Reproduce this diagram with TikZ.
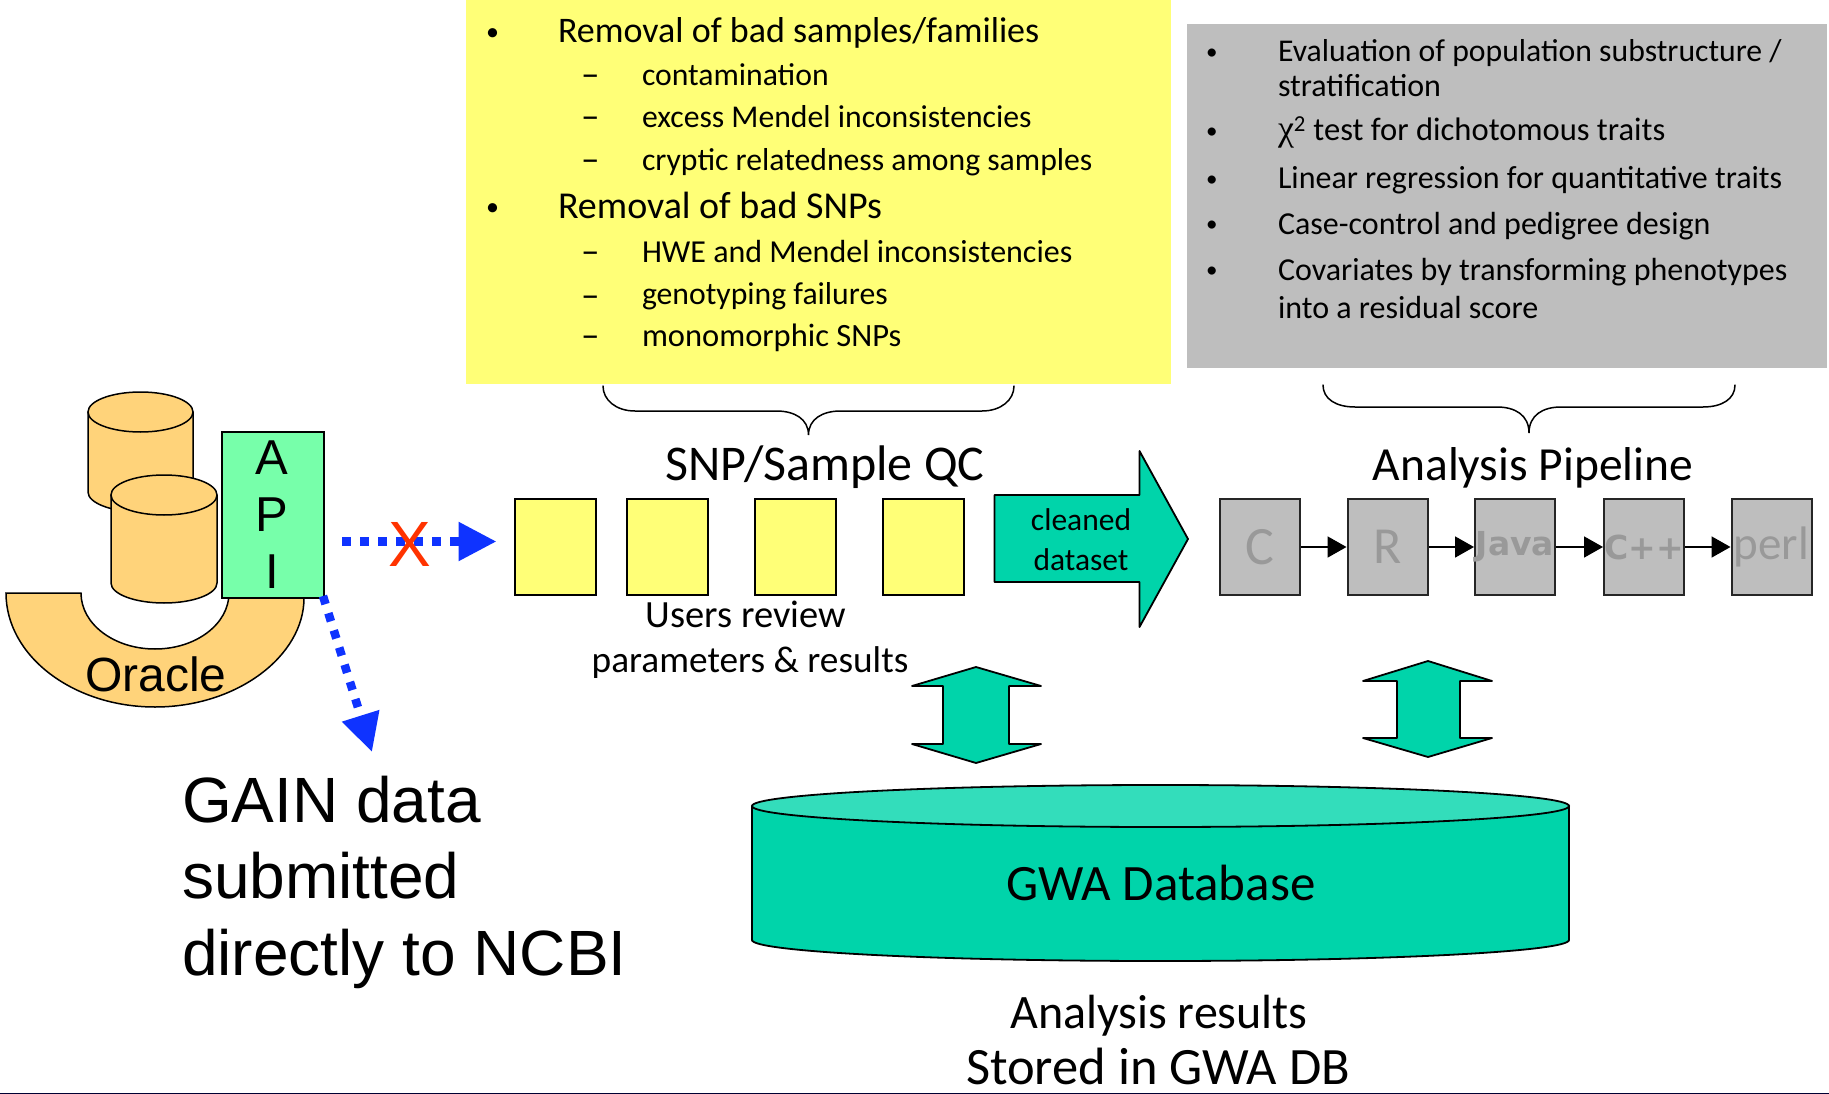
\documentclass[tikz,border=0pt]{standalone}
\usepackage{fontspec}
\setmainfont{Carlito}
\newfontfamily\arialf{Liberation Sans}
\newfontfamily\serf{Liberation Serif}
\newfontfamily\heavyf{DejaVu Sans}
\usetikzlibrary{arrows.meta,calc}
\definecolor{yel}{HTML}{FFFF77}
\definecolor{gry}{HTML}{BEBEBE}
\definecolor{txg}{HTML}{999999}
\definecolor{org}{HTML}{FFD37A}
\definecolor{teal1}{HTML}{00D4AA}
\definecolor{teal2}{HTML}{33DDBB}
\definecolor{mint}{HTML}{77FFAA}
\definecolor{blu}{HTML}{0F33FF}
\definecolor{redx}{HTML}{FF3300}
\newcommand{\fsz}[1]{\fontsize{#1pt}{#1pt}\selectfont}
% cylinder: x1 x2 ytopcentre ybottomcentre ry topfill bodyfill lw
\newcommand{\cylshape}[8]{%
 \pgfmathsetmacro{\xc}{(#1+#2)/2}\pgfmathsetmacro{\rx}{(#2-#1)/2}%
 \pgfmathsetmacro{\kx}{\rx*0.5523}\pgfmathsetmacro{\ky}{#5*0.5523}%
 \draw[line width=#8pt,fill=#7,line join=round] (#1,#3) -- (#1,#4)
  .. controls (#1,#4+\ky) and (\xc-\kx,#4+#5) .. (\xc,#4+#5)
  .. controls (\xc+\kx,#4+#5) and (#2,#4+\ky) .. (#2,#4) -- (#2,#3) -- cycle;
 \draw[line width=#8pt,fill=#6] (#1,#3)
  .. controls (#1,#3-\ky) and (\xc-\kx,#3-#5) .. (\xc,#3-#5)
  .. controls (\xc+\kx,#3-#5) and (#2,#3-\ky) .. (#2,#3)
  .. controls (#2,#3+\ky) and (\xc+\kx,#3+#5) .. (\xc,#3+#5)
  .. controls (\xc-\kx,#3+#5) and (#1,#3+\ky) .. (#1,#3) -- cycle;
}
% brace: left right top flat tip
\newcommand{\bracefig}[5]{%
 \pgfmathsetmacro{\bm}{(#1+#2)/2}%
 \draw[line width=1.5pt,line cap=round] (#1,#3)
  .. controls (#1,#3+14) and (#1+13,#4) .. (#1+32,#4) -- (\bm-32,#4)
  .. controls (\bm-14,#4) and (\bm,#4+8) .. (\bm,#5)
  .. controls (\bm,#4+8) and (\bm+14,#4) .. (\bm+32,#4) -- (#2-32,#4)
  .. controls (#2-13,#4) and (#2,#3+14) .. (#2,#3);
}
\tikzset{
 lab/.style={inner sep=0pt,outer sep=0pt,anchor=base,align=center},
 labw/.style={inner sep=0pt,outer sep=0pt,anchor=base west},
 yl1/.style={labw,font=\fsz{36}},
 yl2/.style={labw,font=\fsz{31.7}},
 gl/.style={labw,font=\fsz{32}},
 ybox/.style={draw=black,line width=2pt,fill=yel,inner sep=0pt,minimum width=81pt,minimum height=96pt},
 gbox/.style={draw=black!85,line width=2pt,fill=gry,inner sep=0pt,minimum width=80pt,minimum height=96pt,text=txg},
 flow/.style={line width=1.8pt,-{Triangle[length=19pt,width=21pt]},shorten <=0pt},
 dots/.style={blu,line width=8.5pt,dash pattern=on 8.5pt off 9.5pt,-{Triangle[length=38pt,width=37pt]}},
 tealfig/.style={draw=black,line width=1.8pt,fill=teal1,line join=round},
}
\begin{document}
\begin{tikzpicture}[x=1pt,y=-1pt]
\useasboundingbox (0,0) rectangle (1829,1094);
\fill[white] (0,0) rectangle (1829,1094);
\fill[yel] (466,0) rectangle (1171,384);
\fill[gry] (1187,24) rectangle (1827,368);
% yellow text
\foreach \nm/\yy in {ba/41,bb/216}{\node[labw,font=\fsz{26}] (\nm) at (486,\yy) {•};}
\foreach \nm/\yy in {da/87,db/129,dc/172,dd/263,de/307,df/347}{\node[labw,font=\fsz{37}] (\nm) at (581,\yy) {–};}
\node[yl1] (y1) at (558,43) {Removal of bad samples/families};
\node[yl2] (y2) at (642,86) {contamination};
\node[yl2] (y3) at (642,128) {excess Mendel inconsistencies};
\node[yl2] (y4) at (642,171) {cryptic relatedness among samples};
\node[labw,font=\fsz{38}] (y5) at (558,219) {Removal of bad SNPs};
\node[labw,font=\fsz{32}] (y6) at (642,262) {HWE and Mendel inconsistencies};
\node[yl2] (y7) at (642,305) {genotyping failures};
\node[labw,font=\fsz{32.5}] (y8) at (642,346) {monomorphic SNPs};
% gray text
\foreach \nm/\yy in {ga/60,gb/139,gc/187,gd/232,ge/277}{\node[labw,font=\fsz{23}] (\nm) at (1206,\yy) {•};}
\node[labw,font=\fsz{31.7}] (g1) at (1278,62) {Evaluation of population substructure /};
\node[gl] (g2) at (1278,97) {stratification};
\node[labw,font=\fsz{32.6}] (g3) at (1278,141) {{\serf\fsz{36}χ}\textsuperscript{2} test for dichotomous traits};
\node[gl] (g4) at (1278,189) {Linear regression for quantitative traits};
\node[gl] (g5) at (1278,235) {Case-control and pedigree design};
\node[gl] (g6) at (1278,280) {Covariates by transforming phenotypes};
\node[gl] (g7) at (1278,318) {into a residual score};
% braces
\bracefig{603}{1014}{386}{411}{435}
\bracefig{1323}{1735}{385}{407}{433}
% titles
\node[lab,font=\fsz{50}] (tq) at (825,480) {SNP/Sample QC};
\node[lab,font=\fsz{47.5}] (tp) at (1533,480) {Analysis Pipeline};
% left figure
\draw[line width=1.5pt,fill=org] (6,593) -- (81,593)
  .. controls (81,624) and (114,649) .. (155,649)
  .. controls (196,649) and (229,624) .. (229,593) -- (304,598)
  .. controls (304,656) and (237,707) .. (155,707)
  .. controls (73,707) and (6,656) .. (6,593) -- cycle;
\cylshape{88}{193}{412}{492}{20}{org}{org}{1.5}
\cylshape{111}{217}{495}{583}{20}{org}{org}{1.5}
\node[draw=black,line width=2pt,fill=mint,minimum width=102pt,minimum height=166pt,inner sep=0pt] (api) at (273,515) {};
\node[lab,font=\arialf\fsz{49}] (la) at (272,474) {A};
\node[lab,font=\arialf\fsz{49}] (lp) at (272,531) {P};
\node[lab,font=\arialf\fsz{49}] (li) at (272,588) {I};
\node[lab,font=\arialf\fsz{48}] (lo) at (156,691) {Oracle};
% yellow boxes
\node[ybox] (q1) at (555,547) {};
\node[ybox] (q2) at (667,547) {};
\node[ybox] (q3) at (795.5,547) {};
\node[ybox] (q4) at (923.5,547) {};
% dotted arrows
\draw[dots,shorten <=17pt,shorten >=17pt] ($(api.east |- q1.west)+(0,-5.5)$) -- ($(q1.west)+(0,-5.5)$);
\node[lab,font=\arialf\fsz{64},text=redx] (xx) at (410,566) {X};
\coordinate (gainend) at (372,752);
\draw[dots] (api.south east) ++(-2,-3) coordinate (gainstart) (gainstart) -- (gainend);
% GAIN text
\node[labw,font=\arialf\fsz{64}] (n1) at (182,822) {GAIN data};
\node[labw,font=\arialf\fsz{64}] (n2) at (182,898) {submitted};
\node[labw,font=\arialf\fsz{64}] (n3) at (182,975) {directly to NCBI};
% cleaned dataset
\draw[tealfig] (994.5,495) -- (1139.5,495) -- (1139.5,451) -- (1188,539) -- (1139.5,627) -- (1139.5,582) -- (994.5,582) -- cycle;
\node[lab,font=\fsz{31.5}] (c1) at (1081,530) {cleaned};
\node[lab,font=\fsz{31.5}] (c2) at (1081,570) {dataset};
% pipeline boxes
\node[gbox,font=\fsz{54}] (p1) at (1260,547) {\raisebox{-3pt}{C}};
\node[gbox,font=\fsz{52}] (p2) at (1387.5,547) {\raisebox{-3pt}{R}};
\node[gbox,font=\heavyf\bfseries\fsz{33}] (p3) at (1515,547) {\raisebox{-6pt}{Java}};
\node[gbox,font=\heavyf\bfseries\fsz{33}] (p4) at (1644,547) {\raisebox{-5pt}{C++}};
\node[gbox,font=\fsz{47}] (p5) at (1771.5,547) {\raisebox{-3pt}{perl}};
\draw[flow] (p1) -- (p2);
\draw[flow] (p2) -- (p3);
\draw[flow] (p3) -- (p4);
\draw[flow] (p4) -- (p5);
% user text
\node[lab,font=\fsz{38.5}] (u1) at (746,627) {Users review};
\node[lab,font=\fsz{37.3}] (u2) at (750,672) {parameters \& results};
% double arrows
\draw[tealfig] (976,667) -- (1041,686) -- (1009,686) -- (1009,744) -- (1041,744) -- (976,763) -- (912,744) -- (943,744) -- (943,686) -- (912,686) -- cycle;
\draw[tealfig] (1428,661) -- (1492,681) -- (1460,681) -- (1460,738) -- (1492,738) -- (1428,757) -- (1363,738) -- (1397,738) -- (1397,681) -- (1363,681) -- cycle;
% database
\cylshape{752}{1569}{806}{940}{21}{teal2}{teal1}{1.8}
\node[lab,font=\fsz{51}] (db) at (1161,900) {GWA Database};
\node[lab,font=\fsz{48}] (r1) at (1159,1028) {Analysis results};
\node[lab,font=\fsz{52.5}] (r2) at (1158,1084) {Stored in GWA DB};
\fill[black!80!blue] (0,1092.5) rectangle (1829,1094);
\end{tikzpicture}
\end{document}
